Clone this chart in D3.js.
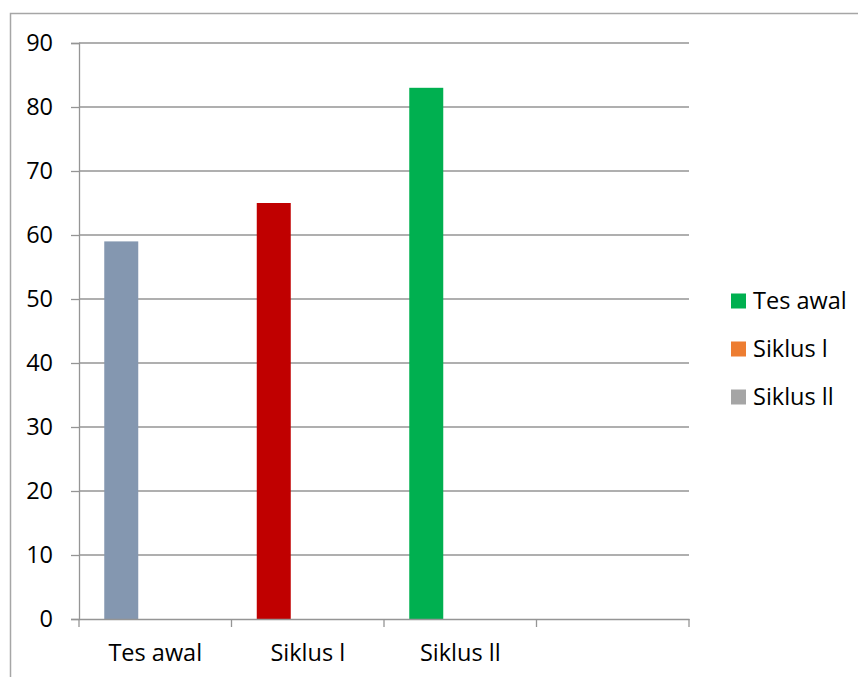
<!DOCTYPE html>
<html>
<head>
  <meta charset="utf-8">
  <title>Tes awal, Siklus l, Siklus ll</title>
  <script src="https://d3js.org/d3.v7.min.js"></script>
  <style>
    body { margin: 0; background: #fff; }
    #chart text { font-family: "Open Sans", "Noto Sans", sans-serif; fill: #000; }
  </style>
</head>
<body>
  <div id="chart"></div>

  <script>
    "use strict"

    // dados do grafico
    const categorias = ["Tes awal", "Siklus l", "Siklus ll", ""];
    const valores = [59, 65, 83, null];
    const coresBarras = ["#8497B0", "#C00000", "#00B050"];
    const series = ["Tes awal", "Siklus l", "Siklus ll"];
    const coresSeries = ["#00B050", "#ED7D31", "#A5A5A5"];
    const ticksY = [0, 10, 20, 30, 40, 50, 60, 70, 80, 90];

    const larguraSVG = 858, alturaSVG = 677;
    const margin = {top: 43, right: 169, bottom: 58, left: 79},
        larguraVis = larguraSVG - margin.left - margin.right,
        alturaVis = alturaSVG - margin.top - margin.bottom;

    const svg = d3.select("#chart").append("svg")
        .attr("width", larguraSVG)
        .attr("height", alturaSVG);

    // moldura do grafico
    svg.append("rect")
        .attr("x", 10.5).attr("y", 13.5)
        .attr("width", larguraSVG + 20).attr("height", alturaSVG + 20)
        .attr("fill", "none").attr("stroke", "#a6a6a6").attr("stroke-width", 1.5);

    const grafico = svg.append("g")
        .attr("transform", "translate(" + margin.left + "," + margin.top + ")");

    // escalas
    const x = d3.scaleBand()
        .domain(categorias.map((d, i) => i))
        .range([0, larguraVis])
        .padding(0);

    // cada categoria tem 3 posicoes (como no Excel); a barra fica na primeira
    const xSerie = d3.scaleBand()
        .domain(series)
        .range([0, x.bandwidth()])
        .paddingInner(0)
        .paddingOuter(0.743);

    const y = d3.scaleLinear()
        .domain([0, 90])
        .range([alturaVis, 0]);

    // linhas de grade
    grafico.append("g")
        .selectAll("line")
        .data(ticksY.filter(t => t > 0))
        .enter().append("line")
          .attr("x1", 0).attr("x2", larguraVis)
          .attr("y1", d => y(d)).attr("y2", d => y(d))
          .attr("stroke", "#959595").attr("stroke-width", 1.3);

    // barras
    grafico.selectAll(".barra")
        .data(valores.map((v, i) => ({i: i, v: v})).filter(d => d.v != null))
        .enter().append("rect")
          .attr("class", "barra")
          .attr("x", d => x(d.i) + xSerie(series[0]))
          .attr("y", d => y(d.v))
          .attr("width", xSerie.bandwidth())
          .attr("height", d => alturaVis - y(d.v))
          .attr("fill", d => coresBarras[d.i]);

    // eixo y
    const eixoY = grafico.append("g")
        .call(d3.axisLeft(y).tickValues(ticksY).tickSize(8).tickPadding(18));
    eixoY.select(".domain").attr("stroke", "#959595").attr("stroke-width", 1.3);
    eixoY.selectAll(".tick line").attr("stroke", "#959595").attr("stroke-width", 1.3);
    eixoY.selectAll("text").style("font-size", "23.5px");

    // eixo x
    const eixoX = grafico.append("g")
        .attr("transform", "translate(0," + alturaVis + ")")
        .call(d3.axisBottom(x).tickSize(0).tickFormat(i => categorias[i]).tickPadding(34));
    eixoX.select(".domain").attr("stroke", "#959595").attr("stroke-width", 1.3);
    eixoX.selectAll("text").style("font-size", "23.5px").attr("dy", "0.35em");

    // marcas entre categorias
    eixoX.selectAll(".sep")
        .data(d3.range(categorias.length + 1))
        .enter().append("line")
          .attr("class", "sep")
          .attr("x1", i => i * x.step()).attr("x2", i => i * x.step())
          .attr("y1", 0).attr("y2", 8)
          .attr("stroke", "#959595").attr("stroke-width", 1.3);

    // legenda
    const legenda = svg.append("g")
        .attr("transform", "translate(731,301)");
    const item = legenda.selectAll("g")
        .data(series)
        .enter().append("g")
          .attr("transform", (d, i) => "translate(0," + i * 48 + ")");
    item.append("rect")
        .attr("x", 0).attr("y", -7.5)
        .attr("width", 15).attr("height", 15)
        .attr("fill", (d, i) => coresSeries[i]);
    item.append("text")
        .attr("x", 22).attr("dy", "0.35em")
        .style("font-size", "23.5px")
        .text(d => d);
  </script>
</body>
</html>
